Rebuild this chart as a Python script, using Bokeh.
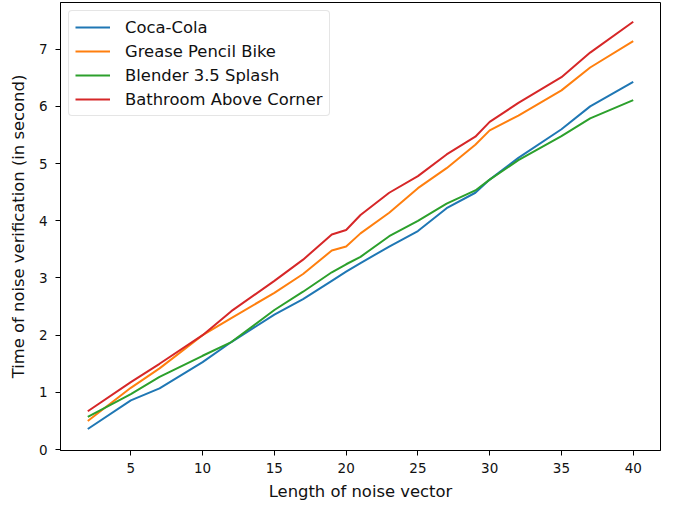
from bokeh.plotting import figure
from bokeh.models import Range1d, FixedTicker, Legend, LegendItem
from bokeh.embed import file_html
from bokeh.resources import INLINE

x = [2, 5, 7, 10, 12, 15, 17, 19, 20, 21, 23, 25, 27, 29, 30, 32, 35, 37, 40]
coca_cola = [0.36, 0.86, 1.07, 1.53, 1.88, 2.36, 2.63, 2.95, 3.11, 3.26, 3.55, 3.82, 4.22, 4.49, 4.72, 5.10, 5.60, 6.00, 6.43]
grease_pencil = [0.50, 1.08, 1.42, 2.00, 2.30, 2.74, 3.07, 3.48, 3.55, 3.78, 4.14, 4.57, 4.92, 5.33, 5.58, 5.84, 6.28, 6.68, 7.14]
blender_splash = [0.57, 0.97, 1.27, 1.64, 1.88, 2.44, 2.76, 3.10, 3.24, 3.37, 3.73, 4.00, 4.30, 4.53, 4.72, 5.06, 5.48, 5.79, 6.11]
bathroom_corner = [0.67, 1.18, 1.50, 2.00, 2.42, 2.95, 3.32, 3.76, 3.84, 4.10, 4.49, 4.78, 5.16, 5.47, 5.73, 6.06, 6.51, 6.94, 7.48]

series_names = ["Coca-Cola", "Grease Pencil Bike", "Blender 3.5 Splash", "Bathroom Above Corner"]
series_values = [coca_cola, grease_pencil, blender_splash, bathroom_corner]
colors = ["#1f77b4", "#ff7f0e", "#2ca02c", "#d62728"]
x_ticks = [5, 10, 15, 20, 25, 30, 35, 40]
y_ticks = [0, 1, 2, 3, 4, 5, 6, 7]

FONT = "DejaVu Sans"

p = figure(width=667, height=504, output_backend="svg", toolbar_location=None,
           x_range=Range1d(0.1, 41.9), y_range=Range1d(-0.016, 7.816),
           min_border_left=60, min_border_right=7, min_border_top=2, min_border_bottom=54)

p.xgrid.visible = False
p.ygrid.visible = False
p.outline_line_color = "black"
p.outline_line_width = 1
p.background_fill_color = "white"
p.border_fill_color = "white"

items = []
for name, vals, c in zip(series_names, series_values, colors):
    r = p.line(x, vals, line_color=c, line_width=2)
    items.append(LegendItem(label=name, renderers=[r]))

legend = Legend(items=items, location="top_left")
legend.label_text_font = FONT
legend.label_text_font_size = "16.4px"
legend.label_text_color = "#111111"
legend.glyph_width = 35
legend.glyph_height = 20
legend.label_standoff = 15
legend.label_height = 20
legend.spacing = 4
legend.padding = 6
legend.margin = 8
legend.border_line_color = "#cccccc"
legend.border_line_width = 1
legend.border_radius = 4
legend.background_fill_alpha = 0.8
p.add_layout(legend)

p.xaxis.ticker = FixedTicker(ticks=x_ticks)
p.yaxis.ticker = FixedTicker(ticks=y_ticks)
for ax in (p.xaxis, p.yaxis):
    ax.axis_line_color = "black"
    ax.major_tick_in = 0
    ax.major_tick_out = 5
    ax.minor_tick_line_color = None
    ax.major_tick_line_color = "black"
    ax.major_label_text_font = FONT
    ax.major_label_text_font_size = "13.5px"
    ax.major_label_text_color = "#111111"
    ax.axis_label_text_font = FONT
    ax.axis_label_text_font_size = "16.4px"
    ax.axis_label_text_font_style = "normal"
    ax.axis_label_text_color = "#111111"

p.xaxis.axis_label = "Length of noise vector"
p.yaxis.axis_label = "Time of noise verification (in second)"
p.xaxis.major_label_standoff = 7
p.xaxis.axis_label_standoff = 6
p.yaxis.major_label_standoff = 8
p.yaxis.axis_label_standoff = 8

open("out.html", "w").write(file_html(p, INLINE))
